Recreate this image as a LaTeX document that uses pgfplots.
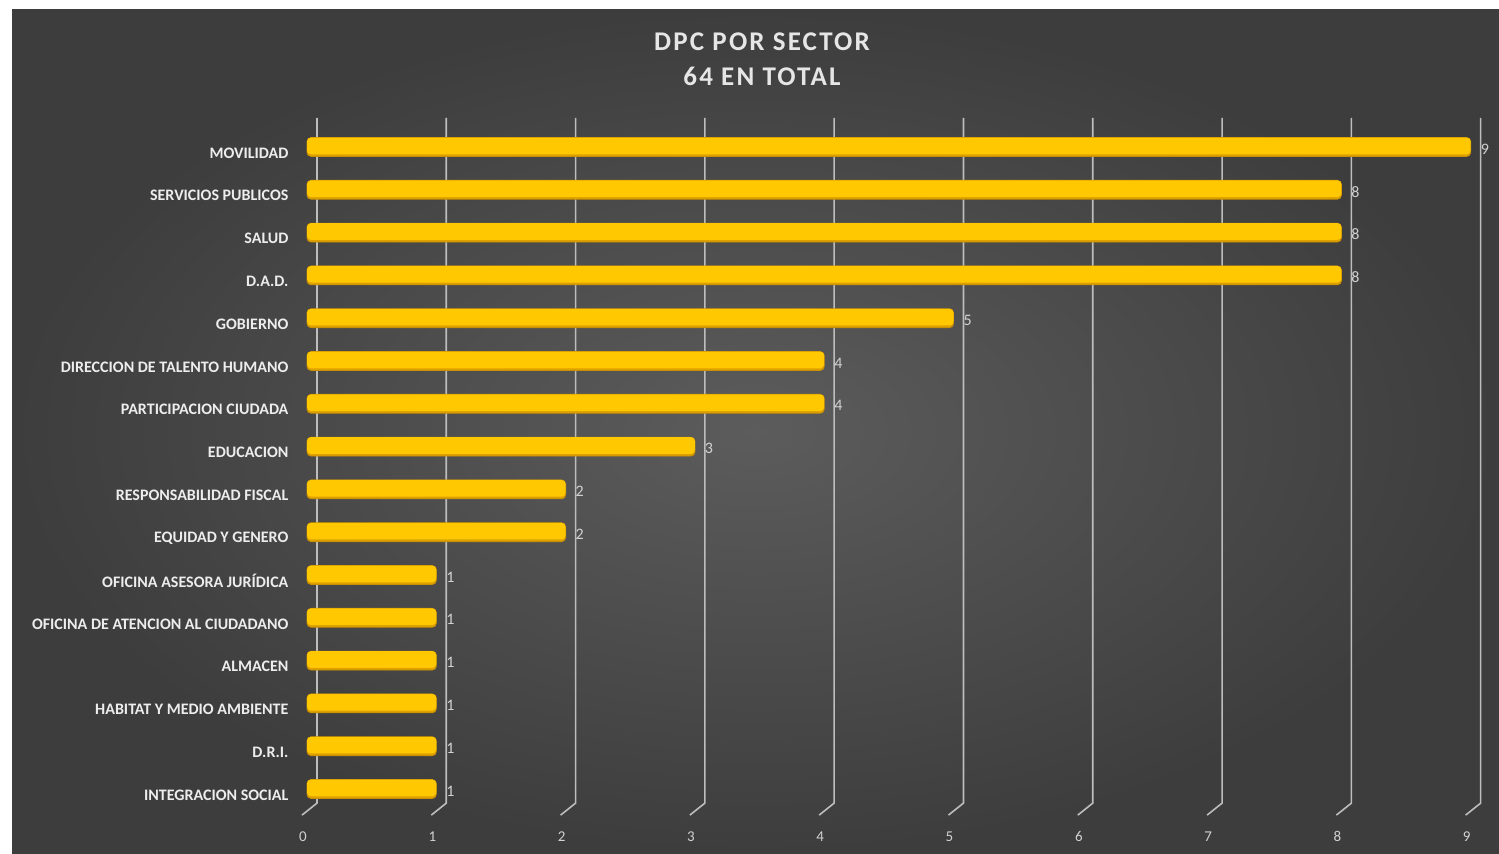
\documentclass[border=0pt]{standalone}
\usepackage{pgfplots}
\pgfplotsset{compat=1.18}
\usepackage{pgfplotstable}
\usepackage{fontspec}
\setmainfont{Carlito}

\definecolor{bgin}{HTML}{5C5C5C}
\definecolor{bgout}{HTML}{3D3D3D}
\definecolor{titlec}{HTML}{E6E6E6}
\definecolor{labc}{HTML}{EDEDED}
\definecolor{tickc}{HTML}{D2D2D2}
\definecolor{gridc}{HTML}{BDBDBD}
\definecolor{barmid}{HTML}{FFC800}
\definecolor{barbot}{HTML}{DDA000}
\definecolor{baredge}{HTML}{C99000}

% top to bottom
\pgfplotstableread{
idx val
0 9
1 8
2 8
3 8
4 5
5 4
6 4
7 3
8 2
9 2
10 1
11 1
12 1
13 1
14 1
15 1
}\dpcdata

\begin{document}
\begin{tikzpicture}
\fill[white] (0,0) rectangle (749.5pt,426.5pt);
\shade[inner color=bgin, outer color=bgout] (6pt,0) rectangle (749.5pt,421.5pt);

\node[text=titlec, font=\bfseries\fontsize{13.5}{16}\selectfont\addfontfeature{LetterSpace=8}] at (381pt,405.5pt) {DPC POR SECTOR};
\node[text=titlec, font=\bfseries\fontsize{13.5}{16}\selectfont\addfontfeature{LetterSpace=8}] at (381pt,388.5pt) {64 EN TOTAL};

\begin{axis}[
    at={(153.5pt,21.3pt)}, anchor=south west,
    scale only axis,
    width=581.85pt, height=342.4pt,
    xmin=0, xmax=9,
    ymin=-0.5, ymax=15.5,
    y dir=reverse,
    clip=false,
    xbar, bar width=0.44,
    axis line style={draw=none},
    major tick style={draw=none},
    xtick={0,...,9},
    ytick={0,...,15},
    yticklabels={MOVILIDAD, SERVICIOS PUBLICOS, SALUD, D.A.D., GOBIERNO,
        DIRECCION DE TALENTO HUMANO, PARTICIPACION CIUDADA, EDUCACION,
        RESPONSABILIDAD FISCAL, EQUIDAD Y GENERO, OFICINA ASESORA JURÍDICA,
        OFICINA DE ATENCION AL CIUDADANO, ALMACEN, HABITAT Y MEDIO AMBIENTE,
        D.R.I., INTEGRACION SOCIAL},
    yticklabel style={anchor=east, xshift=-1.5pt, yshift=-3pt, text=labc,
        font=\bfseries\fontsize{8}{9.5}\selectfont},
    xticklabel style={anchor=north, yshift=-7pt, xshift=-2pt, text=tickc,
        font=\fontsize{7.5}{9}\selectfont},
    /pgf/number format/assume math mode=true,
]
\pgfplotsinvokeforeach{0,...,9}{
  \draw[gridc, line width=0.8pt] (axis cs:#1+0.077,-0.68) -- (axis cs:#1+0.077,15.33) -- (axis cs:#1-0.039,15.61);
}
\addplot[bar shift=0, draw=baredge, line width=0.4pt, fill=barbot, rounded corners=2pt]
    table[x=val, y=idx] {\dpcdata};
\addplot[bar shift=-0.025, bar width=0.39, draw=none, fill=barmid, rounded corners=2pt,
    nodes near coords,
    every node near coord/.append style={text=tickc, anchor=west, xshift=1.5pt, yshift=-1.5pt,
        font=\fontsize{8}{9.5}\selectfont}]
    table[x=val, y=idx] {\dpcdata};
\end{axis}
\end{tikzpicture}
\end{document}
